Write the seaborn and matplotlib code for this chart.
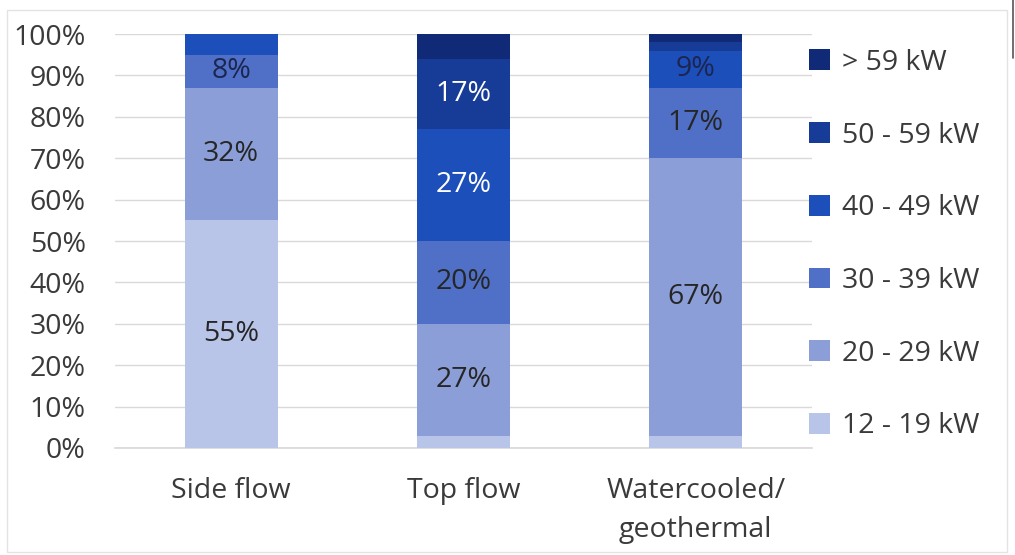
import matplotlib
matplotlib.use("Agg")
import matplotlib.pyplot as plt
from matplotlib.patches import Patch, Rectangle
from matplotlib.lines import Line2D
import seaborn as sns
import numpy as np

# Share of racks per power class for each cooling approach (percent)
categories = ["Side flow", "Top flow", "Watercooled/\ngeothermal"]
series_names = ["12 - 19 kW", "20 - 29 kW", "30 - 39 kW", "40 - 49 kW", "50 - 59 kW", "> 59 kW"]
kw_12_19 = [55, 3, 3]
kw_20_29 = [32, 27, 67]
kw_30_39 = [8, 20, 17]
kw_40_49 = [5, 27, 9]
kw_50_59 = [0, 17, 2]
kw_over_59 = [0, 6, 2]
yticks = [0, 10, 20, 30, 40, 50, 60, 70, 80, 90, 100]

series = [kw_12_19, kw_20_29, kw_30_39, kw_40_49, kw_50_59, kw_over_59]
colors = ["#b8c4e8", "#8b9ed7", "#4f70c6", "#1d4fba", "#173c98", "#112a78"]

sns.set_theme(style="white")
plt.rcParams["font.family"] = ["Open Sans", "DejaVu Sans"]
text_color = "#3a3a3a"
fs = 20.5

fig = plt.figure(figsize=(10.15, 5.55), dpi=100)
ax = fig.add_axes([0.1133, 0.1928, 0.6867, 0.7459])

bottoms = np.zeros(len(categories))
for name, vals, col in zip(series_names, series, colors):
    vals = np.array(vals, dtype=float)
    sns.barplot(x=categories, y=vals, bottom=bottoms, color=col, width=0.4,
                saturation=1, ax=ax, linewidth=0, zorder=3)
    bottoms = bottoms + vals

# value labels inside the larger segments
bottoms = np.zeros(len(categories))
for si, vals in enumerate(series):
    for i, v in enumerate(vals):
        if v >= 8:
            if si <= 1:
                col = "#262626"
            elif si == 2:
                col = "#1c2550" if v < 10 else "#262626"
            elif si == 3:
                col = "white" if v >= 20 else "#1c2550"
            else:
                col = "white"
            ax.text(i, bottoms[i] + v / 2, f"{v}%", ha="center", va="center",
                    fontsize=fs, color=col, zorder=4)
    bottoms = bottoms + np.array(vals)

ax.set_xlim(-0.5, 2.5)
ax.set_ylim(0, 100)
ax.set_yticks(yticks)
ax.set_yticklabels([f"{t}%" for t in yticks], fontsize=fs, color=text_color)
ax.tick_params(axis="x", labelsize=fs, labelcolor=text_color, pad=21, length=0)
ax.tick_params(axis="y", pad=21, length=0)
for lab in ax.get_xticklabels():
    lab.set_linespacing(1.5)
ax.yaxis.grid(True, color="#d9d9d9", linewidth=1, zorder=0)
ax.set_axisbelow(True)
for s in ["top", "right", "left"]:
    ax.spines[s].set_visible(False)
ax.spines["bottom"].set_color("#d9d9d9")
ax.set_xlabel("")
ax.set_ylabel("")

handles = [Patch(facecolor=c, edgecolor="none") for c in colors][::-1]
labels = series_names[::-1]
fig.legend(handles, labels, loc="upper left", bbox_to_anchor=(0.797, 0.912),
           frameon=False, fontsize=fs, labelcolor=text_color,
           handlelength=0.75, handleheight=0.75, handletextpad=0.4,
           labelspacing=1.57, borderaxespad=0, borderpad=0)

# chart frame
fig.patches.append(Rectangle((0.007, 0.005), 0.985, 0.977, transform=fig.transFigure,
                             fill=False, edgecolor="#e3e3e3", linewidth=1))
fig.add_artist(Line2D([0.9985, 0.9985], [0.895, 1.0], transform=fig.transFigure,
                      color="#555555", linewidth=1.2))

fig.savefig("out.png", dpi=100)
